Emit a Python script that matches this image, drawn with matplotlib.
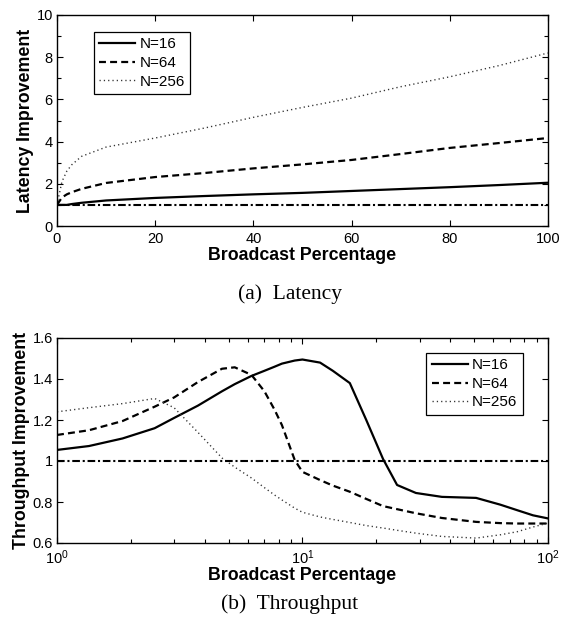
import matplotlib
matplotlib.use("Agg")
import matplotlib.pyplot as plt
from matplotlib.ticker import FixedLocator, FormatStrFormatter, LogLocator, NullFormatter

plt.rcParams["font.family"] = ["Liberation Sans", "DejaVu Sans"]
plt.rcParams["lines.scale_dashes"] = False
plt.rcParams["mathtext.fontset"] = "custom"
plt.rcParams["mathtext.rm"] = "Liberation Sans"

# (a) latency improvement vs broadcast percentage
lat_x = [0, 1, 2, 3, 5, 10, 20, 30, 40, 50, 60, 70, 80, 90, 100]
lat_n16 = [1.0, 1.0, 1.0, 1.04, 1.1, 1.21, 1.33, 1.42, 1.5, 1.57, 1.66, 1.75, 1.84, 1.94, 2.05]
lat_n64 = [1.0, 1.35, 1.5, 1.6, 1.76, 2.04, 2.32, 2.51, 2.73, 2.92, 3.13, 3.41, 3.7, 3.93, 4.17]
lat_n256 = [1.0, 2.1, 2.6, 2.9, 3.3, 3.74, 4.17, 4.64, 5.15, 5.62, 6.06, 6.6, 7.07, 7.6, 8.2]
lat_base = [1.0] * len(lat_x)

# (b) throughput improvement vs broadcast percentage (log x)
tp_x = [1, 1.35, 1.85, 2.5, 3, 3.75, 4.7, 5.3, 6.2, 7, 7.7, 8.25, 9.3, 10,
        11.8, 13.3, 15.6, 18.2, 21.3, 24.3, 29, 37, 51, 64, 75, 87, 100]
tp_n16 = [1.054, 1.073, 1.11, 1.16, 1.21, 1.27, 1.34, 1.375, 1.415, 1.44, 1.46, 1.475, 1.49, 1.495,
          1.48, 1.44, 1.38, 1.2, 1.01, 0.883, 0.844, 0.825, 0.82, 0.787, 0.76, 0.735, 0.72]
tp_n64 = [1.127, 1.15, 1.195, 1.265, 1.31, 1.385, 1.45, 1.457, 1.42, 1.34, 1.25, 1.175, 1.005, 0.947,
          0.907, 0.88, 0.85, 0.815, 0.78, 0.765, 0.745, 0.722, 0.703, 0.697, 0.695, 0.695, 0.695]
tp_n256 = [1.24, 1.26, 1.28, 1.305, 1.26, 1.14, 1.015, 0.97, 0.917, 0.87, 0.834, 0.81, 0.77, 0.75,
           0.727, 0.715, 0.70, 0.685, 0.673, 0.662, 0.648, 0.632, 0.624, 0.64, 0.655, 0.678, 0.697]
tp_base = [1.0] * len(tp_x)

labels = ["N=16", "N=64", "N=256"]

SOLID = dict(color="black", lw=1.6, linestyle="-")
DASHED = dict(color="black", lw=1.6, linestyle=(0, (5, 3)))
DOTTED = dict(color="#333333", lw=1.0, linestyle=(0, (0.9, 2.2)))
DASHDOT = dict(color="black", lw=1.5, linestyle=(0, (5.5, 2, 1.5, 2)))


def style_axes(ax):
    ax.tick_params(which="both", direction="in", top=True, right=True,
                   labelsize=10.5, width=0.8)
    ax.tick_params(axis="x", pad=4)
    ax.tick_params(axis="y", pad=3)
    ax.tick_params(which="major", length=4)
    ax.tick_params(which="minor", length=3)
    for s in ax.spines.values():
        s.set_linewidth(1.0)


def add_legend(ax, loc, anchor):
    leg = ax.legend(loc=loc, bbox_to_anchor=anchor, fontsize=11,
                    handlelength=2.35, handletextpad=0.3, borderpad=0.35,
                    labelspacing=0.3, borderaxespad=0, fancybox=False, framealpha=1)
    leg.get_frame().set_edgecolor("black")
    leg.get_frame().set_linewidth(0.9)


fig = plt.figure(figsize=(5.61, 6.25), dpi=100)

ax1 = fig.add_axes([0.1016, 0.6384, 0.875, 0.3376])
ax1.plot(lat_x, lat_n16, label=labels[0], **SOLID)
ax1.plot(lat_x, lat_n64, label=labels[1], **DASHED)
ax1.plot(lat_x, lat_n256, label=labels[2], **DOTTED)
ax1.plot(lat_x, lat_base, **DASHDOT)
ax1.set_xlim(0, 100)
ax1.set_ylim(0, 10)
ax1.set_xticks([0, 20, 40, 60, 80, 100])
ax1.set_yticks([0, 2, 4, 6, 8, 10])
ax1.yaxis.set_minor_locator(FixedLocator([1, 3, 5, 7, 9]))
style_axes(ax1)
ax1.set_xlabel("Broadcast Percentage", fontsize=12.8, fontweight="bold", labelpad=1)
ax1.set_ylabel("Latency Improvement", fontsize=12.8, fontweight="bold", labelpad=2)
add_legend(ax1, "upper left", (0.075, 0.919))

ax2 = fig.add_axes([0.1016, 0.1312, 0.875, 0.328])
ax2.plot(tp_x, tp_n16, label=labels[0], **SOLID)
ax2.plot(tp_x, tp_n64, label=labels[1], **DASHED)
ax2.plot(tp_x, tp_n256, label=labels[2], **DOTTED)
ax2.plot(tp_x, tp_base, **DASHDOT)
ax2.set_xscale("log")
ax2.set_xlim(1, 100)
ax2.set_ylim(0.6, 1.6)
ax2.set_yticks([0.6, 0.8, 1.0, 1.2, 1.4, 1.6])
ax2.yaxis.set_major_formatter(FormatStrFormatter("%g"))
ax2.xaxis.set_minor_locator(LogLocator(base=10, subs=range(2, 10)))
ax2.xaxis.set_minor_formatter(NullFormatter())
style_axes(ax2)
ax2.set_xlabel("Broadcast Percentage", fontsize=12.8, fontweight="bold", labelpad=0)
ax2.set_ylabel("Throughput Improvement", fontsize=12.8, fontweight="bold", labelpad=2)
add_legend(ax2, "upper right", (0.949, 0.927))

fig.text(290 / 561, 1 - 294 / 625, "(a)  Latency", ha="center", va="center",
         fontsize=15.5, family=["Liberation Serif", "DejaVu Serif"])
fig.text(290 / 561, 1 - 604 / 625, "(b)  Throughput", ha="center", va="center",
         fontsize=15.5, family=["Liberation Serif", "DejaVu Serif"])

fig.savefig("out.png", dpi=100)
